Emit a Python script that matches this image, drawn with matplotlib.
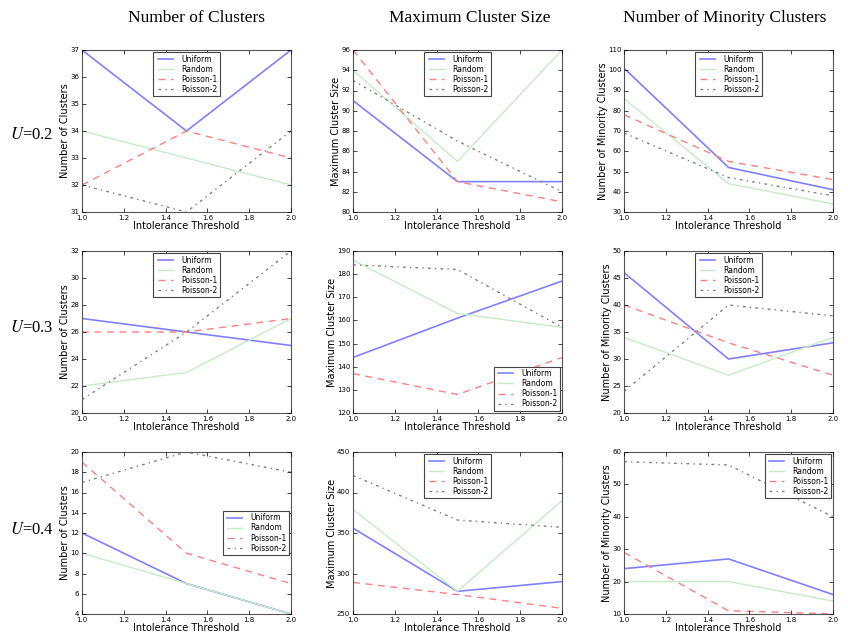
import matplotlib
matplotlib.use("Agg")
import matplotlib.pyplot as plt
import numpy as np

plt.style.use('classic')

thresholds = [1.0, 1.5, 2.0]
series_names = ["Uniform", "Random", "Poisson-1", "Poisson-2"]
col_titles = ["Number of Clusters", "Maximum Cluster Size", "Number of Minority Clusters"]
row_labels = ["0.2", "0.3", "0.4"]
ylabels = ["Number of Clusters", "Maximum Cluster Size", "Number of Minority Clusters"]

# U = 0.2
n_clusters_02 = {"Uniform": [37, 34, 37], "Random": [34, 33, 32],
                 "Poisson-1": [32, 34, 33], "Poisson-2": [32, 31, 34]}
max_size_02 = {"Uniform": [91, 83, 83], "Random": [94, 85, 96],
               "Poisson-1": [96, 83, 81], "Poisson-2": [93, 87, 82]}
minority_02 = {"Uniform": [101, 52, 41], "Random": [86, 44, 34],
               "Poisson-1": [78, 55, 46], "Poisson-2": [69, 47, 38]}
# U = 0.3
n_clusters_03 = {"Uniform": [27, 26, 25], "Random": [22, 23, 27],
                 "Poisson-1": [26, 26, 27], "Poisson-2": [21, 26, 32]}
max_size_03 = {"Uniform": [144, 161, 177], "Random": [186, 163, 157],
               "Poisson-1": [137, 128, 144], "Poisson-2": [184, 182, 157]}
minority_03 = {"Uniform": [46, 30, 33], "Random": [34, 27, 34],
               "Poisson-1": [40, 33, 27], "Poisson-2": [24, 40, 38]}
# U = 0.4
n_clusters_04 = {"Uniform": [12, 7, 4], "Random": [10, 7, 4],
                 "Poisson-1": [19, 10, 7], "Poisson-2": [17, 20, 18]}
max_size_04 = {"Uniform": [356, 278, 290], "Random": [379, 278, 390],
               "Poisson-1": [289, 274, 257], "Poisson-2": [421, 366, 357]}
minority_04 = {"Uniform": [24, 27, 16], "Random": [20, 20, 14],
               "Poisson-1": [29, 11, 10], "Poisson-2": [57, 56, 40]}

data = [[n_clusters_02, max_size_02, minority_02],
        [n_clusters_03, max_size_03, minority_03],
        [n_clusters_04, max_size_04, minority_04]]

ylims = [[(31, 37, 1), (80, 96, 2), (30, 110, 10)],
         [(20, 32, 2), (120, 190, 10), (20, 50, 5)],
         [(4, 20, 2), (250, 450, 50), (10, 60, 10)]]

legend_locs = [["upper center", "upper center", "upper center"],
               ["upper center", "lower right", "upper center"],
               ["center right", "upper center", "upper right"]]

styles = {"Uniform": dict(color=(0.5, 0.5, 1.0), ls='-', lw=1.2),
          "Random": dict(color=(0.78, 0.92, 0.78), ls='-', lw=1.0),
          "Poisson-1": dict(color=(1.0, 0.5, 0.5), ls=(0, (5, 4)), lw=1.0),
          "Poisson-2": dict(color=(0.5, 0.5, 0.5), ls=(0, (2, 3, 1, 3)), lw=1.0)}

W, H = 848, 640
fig = plt.figure(figsize=(W / 100, H / 100), dpi=100, facecolor='white')

lefts = [82, 353, 624]
tops = [50, 251, 452]
aw, ah = 209, 162

for r in range(3):
    for c in range(3):
        ax = fig.add_axes([lefts[c] / W, 1 - (tops[r] + ah) / H, aw / W, ah / H])
        ax.set_facecolor('white')
        d = data[r][c]
        for name in series_names:
            ax.plot(thresholds, d[name], label=name, **styles[name])
        lo, hi, st = ylims[r][c]
        ax.set_ylim(lo, hi)
        ax.set_yticks(np.arange(lo, hi + st / 2, st))
        ax.set_xlim(1.0, 2.0)
        ax.set_xticks([1.0, 1.2, 1.4, 1.6, 1.8, 2.0])
        ax.tick_params(labelsize=5, length=3, width=0.5, direction='in', pad=2)
        for sp in ax.spines.values():
            sp.set_linewidth(0.8)
            sp.set_color('#555555')
        ax.set_xlabel("Intolerance Threshold", fontsize=7, labelpad=0)
        ax.set_ylabel(ylabels[c], fontsize=7, labelpad=0)
        leg = ax.legend(loc=legend_locs[r][c], fontsize=5.5, handlelength=2.5,
                        borderpad=0.3, labelspacing=0.15, handletextpad=0.8,
                        frameon=True, fancybox=False, borderaxespad=0.3)
        leg.get_frame().set_linewidth(0.8)
        leg.get_frame().set_edgecolor('#444444')

col_centers = [196, 470, 725]
for c in range(3):
    fig.text(col_centers[c] / W, 1 - 18 / H, col_titles[c], ha='center', va='center',
             fontsize=12.5, family='Liberation Serif')

row_centers = [135, 328, 530]
for r in range(3):
    fig.text(32 / W, 1 - row_centers[r] / H, "$U$=" + row_labels[r], ha='center', va='center',
             fontsize=12, family='Liberation Serif',
             math_fontfamily='stix')

fig.savefig("out.png", dpi=100, facecolor='white')
